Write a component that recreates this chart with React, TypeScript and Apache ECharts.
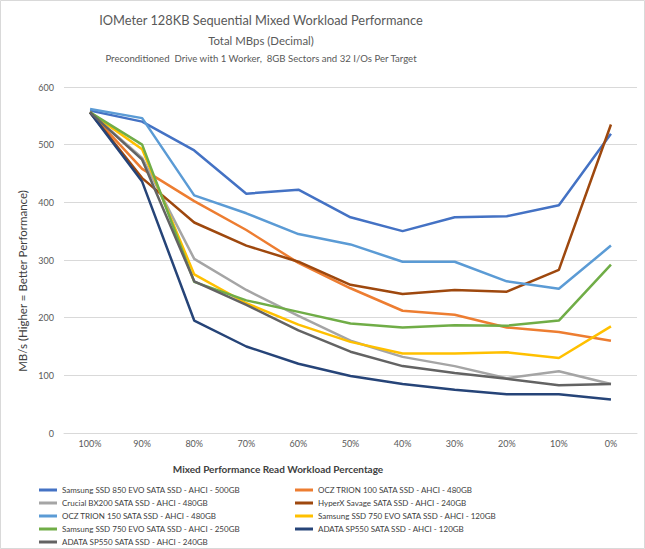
import React, { useEffect, useRef } from "react";
import * as echarts from "echarts";

const categories = ["100%", "90%", "80%", "70%", "60%", "50%", "40%", "30%", "20%", "10%", "0%"];

const seriesNames = [
  "Samsung SSD 850 EVO SATA SSD - AHCI - 500GB",
  "OCZ TRION 100 SATA SSD - AHCI - 480GB",
  "Crucial BX200 SATA SSD - AHCI - 480GB",
  "HyperX Savage SATA SSD - AHCI - 240GB",
  "OCZ TRION 150 SATA SSD - AHCI - 480GB",
  "Samsung SSD 750 EVO SATA SSD - AHCI - 120GB",
  "Samsung SSD 750 EVO SATA SSD - AHCI - 250GB",
  "ADATA SP550 SATA SSD - AHCI - 120GB",
  "ADATA SP550 SATA SSD - AHCI - 240GB",
];

const samsung850_500 = [559, 540, 490, 415, 422, 374, 350, 374, 376, 395, 519];
const oczTrion100_480 = [556, 458, 402, 352, 295, 251, 212, 205, 183, 175, 160];
const crucialBx200_480 = [556, 477, 302, 248, 203, 160, 132, 116, 95, 107, 85];
const hyperxSavage_240 = [556, 442, 365, 325, 297, 257, 241, 248, 245, 283, 535];
const oczTrion150_480 = [562, 546, 412, 381, 345, 327, 297, 297, 263, 250, 325];
const samsung750_120 = [556, 492, 275, 225, 188, 158, 138, 138, 140, 130, 185];
const samsung750_250 = [556, 500, 262, 230, 210, 190, 183, 187, 186, 195, 292];
const adata550_120 = [556, 436, 195, 150, 120, 99, 85, 75, 67, 67, 58];
const adata550_240 = [556, 474, 263, 222, 178, 141, 116, 104, 94, 83, 85];

const seriesValues = [
  samsung850_500,
  oczTrion100_480,
  crucialBx200_480,
  hyperxSavage_240,
  oczTrion150_480,
  samsung750_120,
  samsung750_250,
  adata550_120,
  adata550_240,
];

const colors = ["#4472C4", "#ED7D31", "#A5A5A5", "#9E480E", "#5B9BD5", "#FFC000", "#70AD47", "#264478", "#636363"];

const yTicks = [0, 100, 200, 300, 400, 500, 600];

const FONT = "Lato";

export default function App() {
  const ref = useRef<HTMLDivElement>(null);
  useEffect(() => {
    if (!ref.current) return;
    const chart = echarts.init(ref.current, undefined, { renderer: "svg" });
    const legendText = { fontFamily: FONT, fontSize: 8, color: "#404040", lineHeight: 12 };
    const legendBase = {
      orient: "vertical" as const,
      top: 484,
      itemWidth: 18,
      itemHeight: 3,
      itemGap: 1,
      icon: "rect",
      textStyle: legendText,
      padding: 0,
      selectedMode: false,
    };
    chart.setOption({
      animation: false,
      backgroundColor: "#ffffff",
      color: colors,
      grid: { left: 64, right: 8, top: 87, bottom: 116, containLabel: false },
      xAxis: {
        type: "category",
        data: categories,
        boundaryGap: true,
        axisLine: { show: true, lineStyle: { color: "#D9D9D9", width: 1 } },
        axisTick: { show: false },
        axisLabel: { fontFamily: FONT, fontSize: 9, color: "#595959", margin: 6 },
      },
      yAxis: {
        type: "value",
        min: yTicks[0],
        max: yTicks[yTicks.length - 1],
        interval: 100,
        axisLine: { show: false },
        axisTick: { show: false },
        splitLine: { lineStyle: { color: "#D9D9D9", width: 1 } },
        axisLabel: { fontFamily: FONT, fontSize: 9, color: "#595959", margin: 10 },
      },
      legend: [
        { ...legendBase, left: 39, data: seriesNames.filter((_, i) => i % 2 === 0) },
        { ...legendBase, left: 295, data: seriesNames.filter((_, i) => i % 2 === 1) },
      ],
      graphic: [
        {
          type: "rect",
          shape: { x: 0.5, y: 0.5, width: 644, height: 548 },
          style: { fill: "none", stroke: "#D9D9D9", lineWidth: 1 },
          silent: true,
        },
        {
          type: "text",
          x: 261,
          y: 20,
          style: { text: "IOMeter 128KB Sequential Mixed Workload Performance", fontFamily: FONT, fontSize: 12.8, fill: "#595959", align: "center", verticalAlign: "middle" },
        },
        {
          type: "text",
          x: 261,
          y: 40,
          style: { text: "Total MBps (Decimal)", fontFamily: FONT, fontSize: 11.4, fill: "#595959", align: "center", verticalAlign: "middle" },
        },
        {
          type: "text",
          x: 261,
          y: 58,
          style: { text: "Preconditioned  Drive with 1 Worker,  8GB Sectors and 32 I/Os Per Target", fontFamily: FONT, fontSize: 9.6, fill: "#595959", align: "center", verticalAlign: "middle" },
        },
        {
          type: "text",
          x: 22,
          y: 281,
          rotation: Math.PI / 2,
          style: { text: "MB/s (Higher = Better Performance)", fontFamily: FONT, fontSize: 11.5, fill: "#404040", align: "center", verticalAlign: "middle" },
        },
        {
          type: "text",
          x: 278,
          y: 469,
          style: { text: "Mixed Performance Read Workload Percentage", fontFamily: FONT, fontSize: 10, fontWeight: "bold", fill: "#404040", align: "center", verticalAlign: "middle" },
        },
      ],
      series: seriesNames.map((name, i) => ({
        name,
        type: "line",
        data: seriesValues[i],
        showSymbol: false,
        symbol: "none",
        lineStyle: { width: 2.5, color: colors[i] },
        itemStyle: { color: colors[i] },
        emphasis: { disabled: true },
      })),
    });
    return () => chart.dispose();
  }, []);
  return <div ref={ref} style={{ width: 645, height: 549, position: "absolute", left: 0, top: 0 }} />;
}
